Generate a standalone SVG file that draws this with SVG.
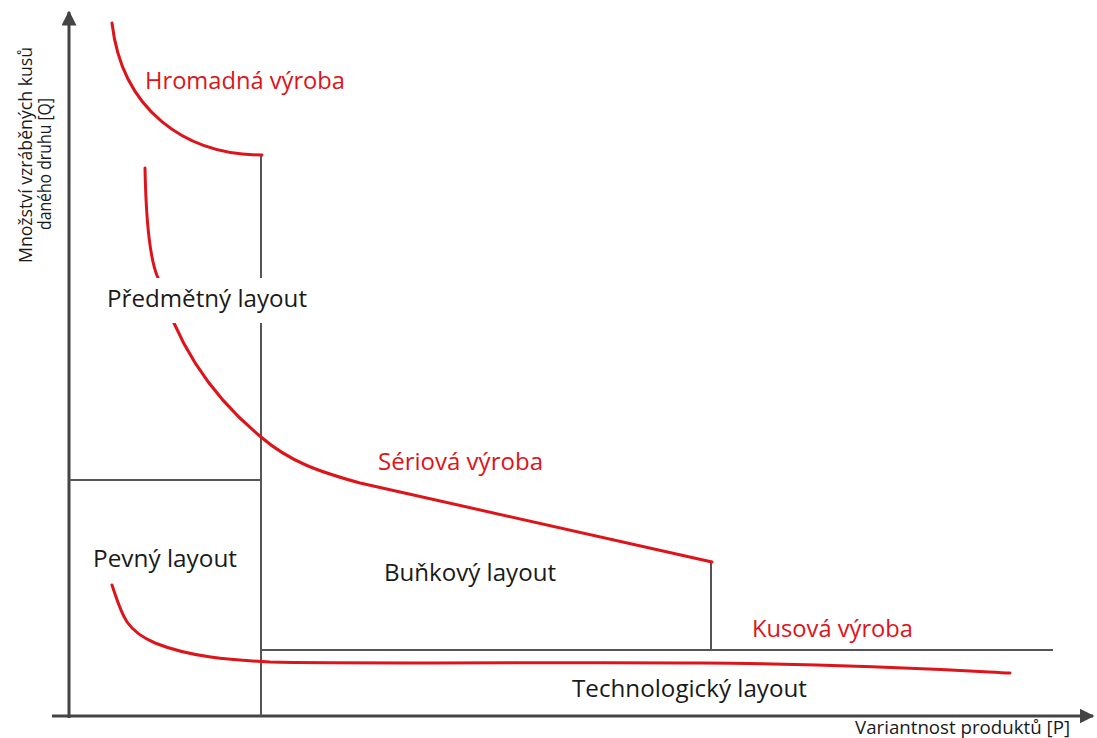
<svg xmlns="http://www.w3.org/2000/svg" width="1097" height="738" viewBox="0 0 1097 738">
<style>
.axis{stroke:#444;stroke-width:3;fill:none}
.box{stroke:#555;stroke-width:2;fill:none}
.curve{stroke:#dd1419;stroke-width:3;fill:none;stroke-linecap:round}
.lbl{font-family:"Open Sans","DejaVu Sans",sans-serif;font-size:23px;fill:#1a1a1a}
.red{fill:#dd1419}
.ax{font-family:"Open Sans","DejaVu Sans",sans-serif;font-size:18.5px;fill:#1a1a1a}
.bg{fill:#fff}
</style>
<defs>
<marker id="arr" viewBox="0 0 10 10" refX="9" refY="5" markerWidth="5" markerHeight="5" markerUnits="strokeWidth" orient="auto">
<path d="M0,0 L10,5 L0,10 z" fill="#444"/>
</marker>
</defs>
<rect width="1097" height="738" fill="#fff"/>
<g id="axes">
<line class="axis" x1="69" y1="718" x2="69" y2="12" marker-end="url(#arr)"/>
<line class="axis" x1="52" y1="716" x2="1093" y2="716" marker-end="url(#arr)"/>
</g>
<g id="connectors">
<line class="box" x1="261" y1="155" x2="261" y2="716"/>
<line class="box" x1="69" y1="480" x2="261" y2="480"/>
<line class="box" x1="261" y1="650" x2="1053" y2="650"/>
<line class="box" x1="711" y1="562" x2="711" y2="650"/>
</g>
<g id="curves">
<path class="curve" d="M112,23 C122,110 185,155 262,155"/>
<path class="curve" d="M145,168 C146,220 150,260 158,278 C175,340 210,395 261,437 C290,462 320,472 360,483 L712,562"/>
<path class="curve" d="M112,585 C122,615 125,630 155,643 C190,657 230,660 270,662 C350,664 600,662 700,663 C850,664 950,670 1010,673"/>
</g>
<g id="hromadna"><text class="lbl red" x="145" y="89" textLength="200" lengthAdjust="spacingAndGlyphs">Hromadná výroba</text></g>
<g id="predmetny">
<rect class="bg" x="102" y="278" width="208" height="45"/>
<text class="lbl" x="107" y="307" textLength="200" lengthAdjust="spacingAndGlyphs">Předmětný layout</text>
</g>
<g id="seriova"><text class="lbl red" x="378" y="470" textLength="165" lengthAdjust="spacingAndGlyphs">Sériová výroba</text></g>
<g id="pevny"><text class="lbl" x="93" y="567" textLength="144" lengthAdjust="spacingAndGlyphs">Pevný layout</text></g>
<g id="bunkovy"><text class="lbl" x="384" y="581" textLength="172" lengthAdjust="spacingAndGlyphs">Buňkový layout</text></g>
<g id="kusova"><text class="lbl red" x="752" y="637" textLength="161" lengthAdjust="spacingAndGlyphs">Kusová výroba</text></g>
<g id="technologicky"><text class="lbl" x="572" y="697" textLength="235" lengthAdjust="spacingAndGlyphs">Technologický layout</text></g>
<g id="xlabel"><text class="ax" x="855" y="734" textLength="215" lengthAdjust="spacingAndGlyphs">Variantnost produktů [P]</text></g>
<g id="ylabel">
<text class="ax" text-anchor="middle" transform="translate(32,155) rotate(-90)" textLength="216" lengthAdjust="spacingAndGlyphs">Množství vzráběných kusů</text>
<text class="ax" text-anchor="middle" transform="translate(51,164) rotate(-90)" textLength="132" lengthAdjust="spacingAndGlyphs">daného druhu [Q]</text>
</g>
</svg>
